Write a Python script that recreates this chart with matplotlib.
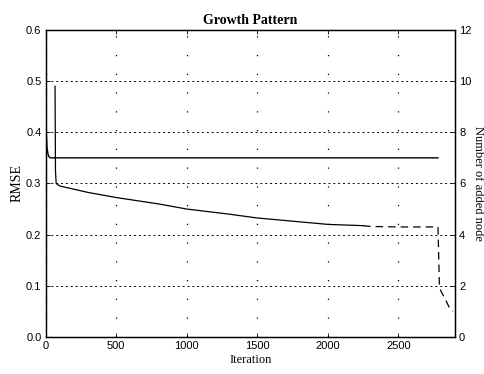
import numpy as np
import matplotlib.pyplot as plt

# RMSE curve (left axis)
it_rmse = [0, 5, 10, 18, 25, 35, 500, 1000, 1500, 2000, 2500, 2780]
rmse = [0.43, 0.40, 0.37, 0.356, 0.352, 0.35, 0.35, 0.35, 0.35, 0.35, 0.35, 0.35]

# number of added node (right axis)
it_node = [67, 70, 75, 100, 300, 500, 800, 1000, 1300, 1500, 1800, 2000, 2250,
           2300, 2500, 2780, 2790, 2800, 2830, 2860, 2885]
nodes = [9.8, 6.5, 6.0, 5.9, 5.65, 5.45, 5.2, 5.0, 4.8, 4.65, 4.5, 4.4, 4.35,
         4.32, 4.3, 4.3, 2.0, 1.8, 1.5, 1.15, 1.0]
n_solid = 13  # points drawn solid, rest dashed

xticks = [0, 500, 1000, 1500, 2000, 2500]
yticks_l = [0, 0.1, 0.2, 0.3, 0.4, 0.5, 0.6]
yticks_r = [0, 2, 4, 6, 8, 10, 12]

plt.rcParams['font.family'] = ['Liberation Serif', 'DejaVu Serif']

fig = plt.figure(figsize=(4.85, 3.74), dpi=100)
ax = fig.add_axes([0.094, 0.099, 0.844, 0.821])
ax2 = ax.twinx()

ax.plot(it_rmse, rmse, color='black', lw=1.0)
ax2.plot(it_node[:n_solid], nodes[:n_solid], color='black', lw=0.9)
ax2.plot(it_node[n_solid - 1:], nodes[n_solid - 1:], color='black', lw=0.9,
         linestyle=(0, (6, 4)))

ax.set_xlim(0, 2900)
ax.set_ylim(0, 0.6)
ax2.set_ylim(0, 12)
ax.set_xticks(xticks)
ax.set_yticks(yticks_l)
ax2.set_yticks(yticks_r)

for a in (ax, ax2):
    a.tick_params(direction='in', length=3, labelsize=8, width=0.6, pad=3)
    for lab in a.get_xticklabels() + a.get_yticklabels():
        lab.set_family('Liberation Sans')
ax.tick_params(top=True)

ax.yaxis.grid(True, color='black', linestyle=(0, (2, 3)), lw=0.7)
ax.xaxis.grid(True, color='black', linestyle=(0, (1, 14)), lw=0.9)

for s in ax.spines.values():
    s.set_linewidth(1.0)

ax.set_title('Growth Pattern', fontsize=10, fontweight='bold', pad=4)
ax.set_xlabel('Iteration', fontsize=9, labelpad=2)
ax.set_ylabel('RMSE', fontsize=10, labelpad=2)
ax2.set_ylabel('Number of added node', fontsize=9, rotation=270, labelpad=9)

fig.savefig('out.png', dpi=100)
